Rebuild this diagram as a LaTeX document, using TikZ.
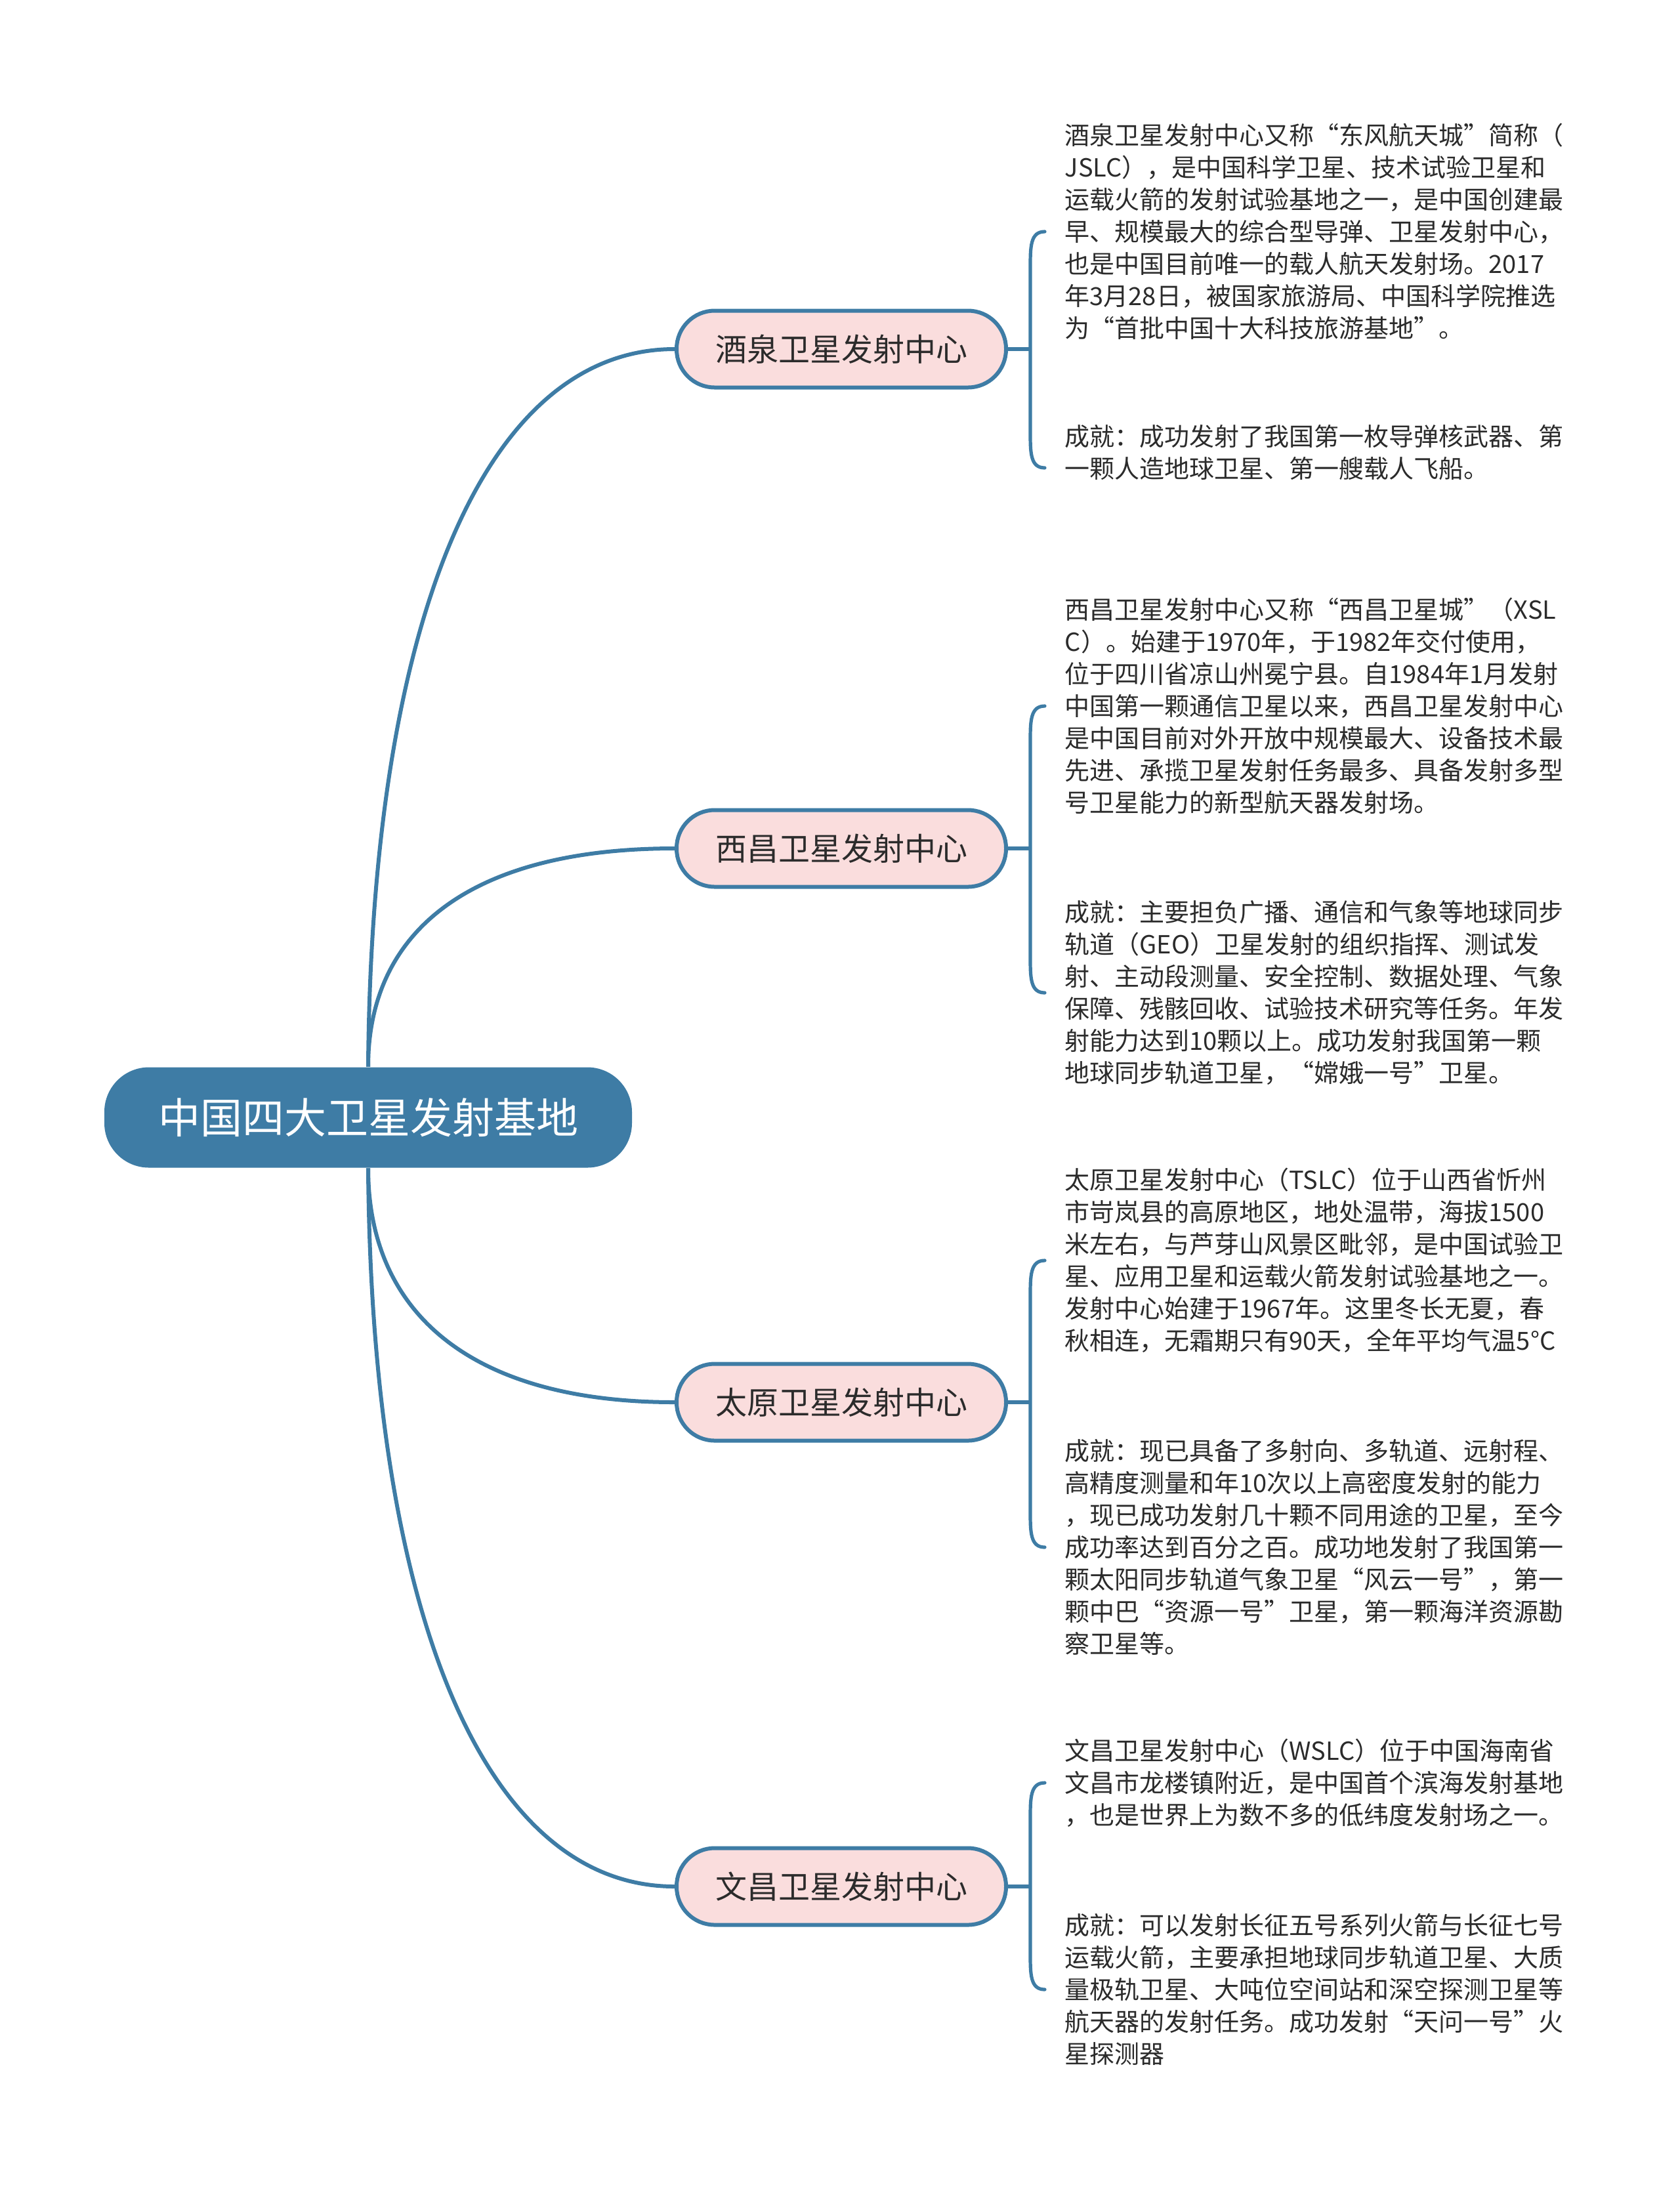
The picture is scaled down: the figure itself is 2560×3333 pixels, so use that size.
\documentclass[tikz,border=0pt]{standalone}
\usepackage{fontspec}
\setmainfont{Noto Sans CJK SC}
\usetikzlibrary{calc}
\definecolor{mainblue}{HTML}{3E7CA5}
\definecolor{branchfill}{HTML}{FADDDD}
\definecolor{txt}{HTML}{2B2B2B}
\begin{document}
\begin{tikzpicture}[x=0.25pt,y=-0.25pt,
  rootnode/.style={fill=mainblue, text=white, rounded corners=17pt, minimum width=201pt, minimum height=38.25pt, inner sep=0pt, font=\fontsize{16}{19}\selectfont},
  branchnode/.style={fill=branchfill, draw=mainblue, line width=1.5pt, text=txt, rounded corners=14.5pt, minimum width=125.5pt, minimum height=29.25pt, inner sep=0pt, font=\fontsize{12}{14}\selectfont},
  leafnode/.style={anchor=west, align=left, text=txt, inner xsep=7.5pt, inner ysep=0pt, font=\fontsize{9.5}{12.25}\selectfont},
  conn/.style={draw=mainblue, line width=1.5pt},
  bracket/.style={draw=mainblue, line width=1.3pt, line cap=round}
]
\useasboundingbox (0,0) rectangle (2560,3333);

% root
\node[rootnode] (root) at (561,1703) {中国四大卫星发射基地};

% branches
\node[branchnode] (b1) at (1282,532) {酒泉卫星发射中心};
\node[branchnode] (b2) at (1282,1293) {西昌卫星发射中心};
\node[branchnode] (b3) at (1282,2137) {太原卫星发射中心};
\node[branchnode] (b4) at (1282,2875) {文昌卫星发射中心};

% leaves
\node[leafnode] (c11) at (1592,353) {酒泉卫星发射中心又称“东风航天城”简称（\\JSLC），是中国科学卫星、技术试验卫星和\\运载火箭的发射试验基地之一，是中国创建最\\早、规模最大的综合型导弹、卫星发射中心，\\也是中国目前唯一的载人航天发射场。2017\\年3月28日，被国家旅游局、中国科学院推选\\为“首批中国十大科技旅游基地”。};
\node[leafnode] (c12) at (1592,690) {成就：成功发射了我国第一枚导弹核武器、第\\一颗人造地球卫星、第一艘载人飞船。};

\node[leafnode] (c21) at (1592,1076) {西昌卫星发射中心又称“西昌卫星城”（XSL\\C）。始建于1970年，于1982年交付使用，\\位于四川省凉山州冕宁县。自1984年1月发射\\中国第一颗通信卫星以来，西昌卫星发射中心\\是中国目前对外开放中规模最大、设备技术最\\先进、承揽卫星发射任务最多、具备发射多型\\号卫星能力的新型航天器发射场。};
\node[leafnode] (c22) at (1592,1513) {成就：主要担负广播、通信和气象等地球同步\\轨道（GEO）卫星发射的组织指挥、测试发\\射、主动段测量、安全控制、数据处理、气象\\保障、残骸回收、试验技术研究等任务。年发\\射能力达到10颗以上。成功发射我国第一颗\\地球同步轨道卫星，“嫦娥一号”卫星。};

\node[leafnode] (c31) at (1592,1921) {太原卫星发射中心（TSLC）位于山西省忻州\\市岢岚县的高原地区，地处温带，海拔1500\\米左右，与芦芽山风景区毗邻，是中国试验卫\\星、应用卫星和运载火箭发射试验基地之一。\\发射中心始建于1967年。这里冬长无夏，春\\秋相连，无霜期只有90天，全年平均气温5°C};
\node[leafnode] (c32) at (1592,2358) {成就：现已具备了多射向、多轨道、远射程、\\高精度测量和年10次以上高密度发射的能力\\，现已成功发射几十颗不同用途的卫星，至今\\成功率达到百分之百。成功地发射了我国第一\\颗太阳同步轨道气象卫星“风云一号”，第一\\颗中巴“资源一号”卫星，第一颗海洋资源勘\\察卫星等。};

\node[leafnode] (c41) at (1592,2717) {文昌卫星发射中心（WSLC）位于中国海南省\\文昌市龙楼镇附近，是中国首个滨海发射基地\\，也是世界上为数不多的低纬度发射场之一。};
\node[leafnode] (c42) at (1592,3032) {成就：可以发射长征五号系列火箭与长征七号\\运载火箭，主要承担地球同步轨道卫星、大质\\量极轨卫星、大吨位空间站和深空探测卫星等\\航天器的发射任务。成功发射“天问一号”火\\星探测器};

% root to branches
\draw[conn] (root.north) .. controls +(5,-680) and +(-290,0) .. (b1.west);
\draw[conn] (root.north) .. controls +(0,-207) and +(-311,0) .. (b2.west);
\draw[conn] (root.south) .. controls +(0,220) and +(-311,0) .. (b3.west);
\draw[conn] (root.south) .. controls +(5,680) and +(-290,0) .. (b4.west);

% brackets
\foreach \b/\ca/\cb/\off in {b1/c11/c12/23, b2/c21/c22/0, b3/c31/c32/0, b4/c41/c42/0}{
  \draw[conn] (\b.east) -- ++(34,0) coordinate (s-\b);
  \draw[bracket] (\ca.west) .. controls +(-22,0) and +(0,-32) .. ($(s-\b |- \ca.west)+(0,55)$)
     -- ($(s-\b |- \cb.west)+(0,\off-55)$) .. controls +(0,32) and +(-22,0) .. ($(\cb.west)+(0,\off)$);
}
\end{tikzpicture}
\end{document}
